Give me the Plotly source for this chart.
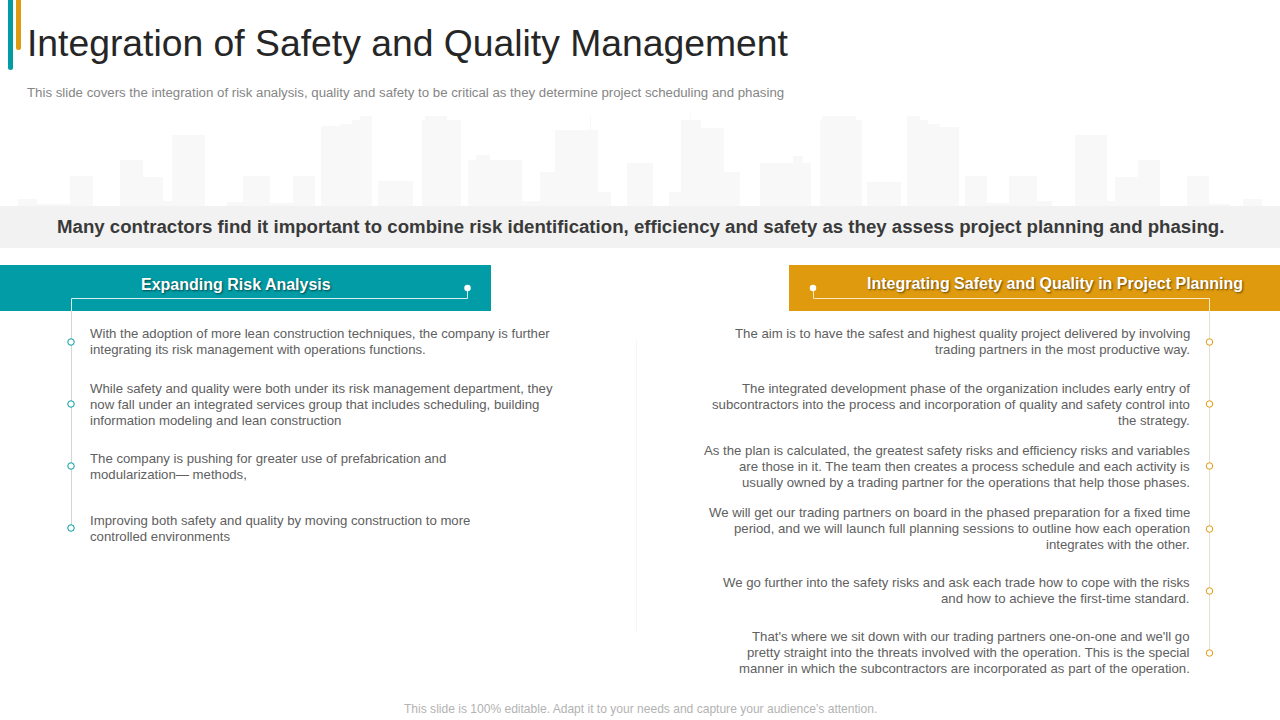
import plotly.graph_objects as go

TITLE = "Integration of Safety and Quality Management"
SUBTITLE = "This slide covers the integration of risk analysis, quality and safety to be critical as they determine project scheduling and phasing"
BANNER = "Many contractors find it important to combine risk identification, efficiency and safety as they assess project planning and phasing."
LEFT_HEAD = "Expanding Risk Analysis"
RIGHT_HEAD = "Integrating Safety and Quality in Project Planning"
FOOTER = "This slide is 100% editable. Adapt it to your needs and capture your audience\u2019s attention."

left_lines = [
    "With the adoption of more lean construction techniques, the company is further",
    "integrating its risk management with operations functions.",
    "While safety and quality were both under its risk management department, they",
    "now fall under an integrated services group that includes scheduling, building",
    "information modeling and lean construction",
    "The company is pushing for greater use of prefabrication and",
    "modularization\u2014 methods,",
    "Improving both safety and quality by moving construction to more",
    "controlled environments",
]
left_line_y = [333, 349, 388, 404, 420, 458, 474, 520, 536]

right_lines = [
    "The aim is to have the safest and highest quality project delivered by involving",
    "trading partners in the most productive way.",
    "The integrated development phase of the organization includes early entry of",
    "subcontractors into the process and incorporation of quality and safety control into",
    "the strategy.",
    "As the plan is calculated, the greatest safety risks and efficiency risks and variables",
    "are those in it. The team then creates a process schedule and each activity is",
    "usually owned by a trading partner for the operations that help those phases.",
    "We will get our trading partners on board in the phased preparation for a fixed time",
    "period, and we will launch full planning sessions to outline how each operation",
    "integrates with the other.",
    "We go further into the safety risks and ask each trade how to cope with the risks",
    "and how to achieve the first-time standard.",
    "That's where we sit down with our trading partners one-on-one and we'll go",
    "pretty straight into the threats involved with the operation. This is the special",
    "manner in which the subcontractors are incorporated as part of the operation.",
]
right_line_y = [333, 349, 388, 404, 420, 450, 466, 482, 512, 528, 544, 582, 598, 636, 652, 668]

left_dot_y = [342, 404, 466, 528]
right_dot_y = [342, 404, 466, 529, 591, 653]

# skyline silhouette: left edge, right edge, roof height
sky_left = [18, 37, 70, 120, 143, 163, 172, 227, 243, 270, 293, 321, 340, 352, 360, 378, 422, 425,
            468, 476, 522, 540, 555, 590, 598, 627, 669, 681, 683, 690, 724, 760, 793, 820, 822,
            867, 907, 920, 928, 940, 965, 987, 1009, 1037, 1075, 1107, 1115, 1138, 1187, 1209, 1243]
sky_right = [37, 70, 93, 143, 163, 172, 205, 243, 270, 293, 315, 340, 352, 360, 372, 413, 461, 447,
             522, 490, 540, 555, 598, 591, 611, 653, 683, 701, 724, 691, 740, 811, 803, 862, 856,
             901, 920, 928, 940, 959, 987, 1009, 1037, 1052, 1107, 1115, 1138, 1160, 1209, 1230, 1262]
sky_roof = [199, 204, 176, 160, 177, 201, 135, 202, 176, 203, 176, 126, 124, 120, 116, 181, 120, 116,
            160, 155, 201, 172, 130, 115, 192, 163, 192, 120, 128, 113, 172, 163, 156, 120, 116,
            182, 116, 120, 124, 127, 176, 203, 176, 201, 135, 201, 177, 160, 176, 204, 199]

TEAL = "#019CA5"
ORANGE = "#DF9A0E"
GROUND = 206

fig = go.Figure()
fig.add_trace(go.Bar(
    x=[(a + b) / 2 for a, b in zip(sky_left, sky_right)],
    width=[b - a for a, b in zip(sky_left, sky_right)],
    y=[r - GROUND for r in sky_roof],
    base=GROUND,
    marker=dict(color="#F8F8F8", line_width=0),
    hoverinfo="skip",
))

def rect(x0, y0, x1, y1, color):
    fig.add_shape(type="rect", x0=x0, y0=y0, x1=x1, y1=y1,
                  fillcolor=color, line_width=0, layer="below")

def pill(x0, x1, bottom, color):
    r = (x1 - x0) / 2
    fig.add_shape(type="path", fillcolor=color, line_width=0, layer="below",
                  path=f"M {x0} 0 L {x1} 0 L {x1} {bottom - r} Q {x1} {bottom} {x0 + r} {bottom} "
                       f"Q {x0} {bottom} {x0} {bottom - r} Z")

def line(xs, ys, color, width=1):
    fig.add_trace(go.Scatter(x=xs, y=ys, mode="lines", line=dict(color=color, width=width),
                             hoverinfo="skip"))

def text(x, y, s, size, color, anchor="left", family="Liberation Sans", bold=False, shadow=None):
    fig.add_annotation(x=x, y=y, text=f"<b>{s}</b>" if bold else s, showarrow=False,
                       xanchor=anchor, yanchor="middle", xref="x", yref="y",
                       borderpad=0, borderwidth=0,
                       font=dict(size=size, color=color, family=family, shadow=shadow or "none"))

# accents, banner, headers
pill(8, 13, 70, TEAL)
pill(16, 21, 50, ORANGE)
rect(0, 206, 1280, 248, "#F2F2F2")
rect(0, 265, 491, 311, TEAL)
rect(789, 265, 1280, 311, ORANGE)

# faint centre divider
line([636.5, 636.5], [340, 632], "#F6F6F6")

# connectors
line([467.5, 467.5, 71.5, 71.5], [288, 298.5, 298.5, 311], "#D9F0F1")
line([71.5, 71.5], [311, 528], "#CFD6D8")
line([813.5, 813.5, 1209.5, 1209.5], [288, 298.5, 298.5, 311], "#F8E8C8")
line([1209.5, 1209.5], [311, 653], "#E6DFD0")

# dots
fig.add_trace(go.Scatter(x=[71] * len(left_dot_y), y=left_dot_y, mode="markers", hoverinfo="skip",
                         marker=dict(size=6.5, color="white", line=dict(color=TEAL, width=1))))
fig.add_trace(go.Scatter(x=[1209.5] * len(right_dot_y), y=right_dot_y, mode="markers", hoverinfo="skip",
                         marker=dict(size=6.5, color="white", line=dict(color=ORANGE, width=1))))
fig.add_trace(go.Scatter(x=[467.5, 813], y=[288, 288], mode="markers", hoverinfo="skip",
                         marker=dict(size=6.5, color="white")))

# texts
text(27, 43, TITLE, 37.3, "#262626")
text(27, 92.5, SUBTITLE, 13.25, "#858585")
text(640.5, 226.6, BANNER, 18.65, "#3A3A3A", anchor="center", bold=True)
SH = "1px 1px 2px rgba(0,0,0,0.55)"
text(235.5, 284.5, LEFT_HEAD, 16, "white", anchor="center", bold=True, shadow=SH)
text(1055, 283.5, RIGHT_HEAD, 16, "white", anchor="center", bold=True, shadow=SH)
for s, y in zip(left_lines, left_line_y):
    text(90, y, s, 13.2, "#606060")
for s, y in zip(right_lines, right_line_y):
    text(1190, y, s, 13.2, "#606060", anchor="right")
text(640, 708.5, FOOTER, 12.05, "#B3B3B3", anchor="center")

fig.update_layout(
    width=1280, height=720, margin=dict(l=0, r=0, t=0, b=0),
    paper_bgcolor="white", plot_bgcolor="rgba(0,0,0,0)", showlegend=False,
    hovermode=False,
    xaxis=dict(range=[0, 1280], visible=False, fixedrange=True),
    yaxis=dict(range=[720, 0], visible=False, fixedrange=True),
)
fig.write_html("out.html", config=dict(displayModeBar=False),
               post_script="document.body.style.margin='0';")
